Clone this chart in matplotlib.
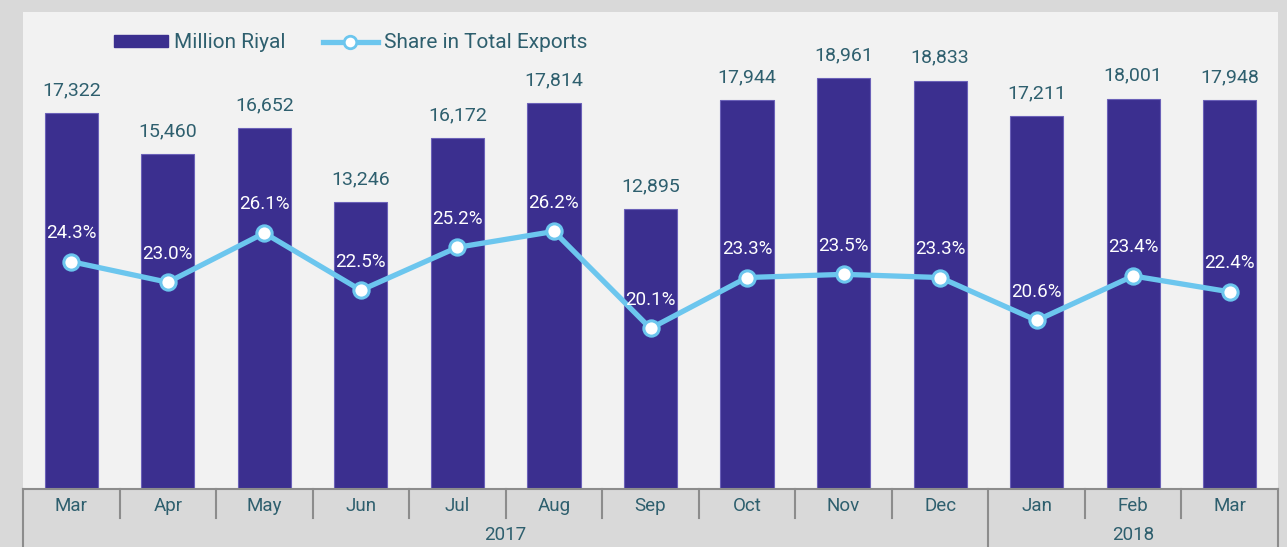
import matplotlib
matplotlib.use("Agg")
import matplotlib.pyplot as plt
from matplotlib.patches import Patch
from matplotlib.lines import Line2D
import matplotlib.transforms as mtrans

months = ["Mar", "Apr", "May", "Jun", "Jul", "Aug", "Sep", "Oct", "Nov", "Dec", "Jan", "Feb", "Mar"]
years = ["2017", "2018"]
year_counts = [10, 3]
million_riyal = [17322, 15460, 16652, 13246, 16172, 17814, 12895, 17944, 18961, 18833, 17211, 18001, 17948]
share_pct = [24.3, 23.0, 26.1, 22.5, 25.2, 26.2, 20.1, 23.3, 23.5, 23.3, 20.6, 23.4, 22.4]

BAR = "#3b2f8f"
LINE = "#6cc6ee"
TEXT = "#2e5f6e"
FIGBG = "#d9d9d9"
AXBG = "#f2f2f2"
W, H = 1287, 547

plt.rcParams['font.family'] = ['Roboto', 'DejaVu Sans']

fig = plt.figure(figsize=(W / 100, H / 100), dpi=100, facecolor=FIGBG)
left, right, top, bottom = 23, 1278, 12, 489
ax = fig.add_axes([left / W, (H - bottom) / H, (right - left) / W, (bottom - top) / H])
ax.set_facecolor(AXBG)
x = list(range(len(months)))
ax.bar(x, million_riyal, width=0.55, color=BAR, edgecolor="#6b61b8", linewidth=0.8, zorder=2)
ax.set_xlim(-0.5, len(months) - 0.5)
ax.set_ylim(0, 22000)
ax.set_yticks([])
ax.set_xticks([])
for s in ["top", "right", "left"]:
    ax.spines[s].set_visible(False)
ax.spines["bottom"].set_color("#8c8c8c")
ax.spines["bottom"].set_linewidth(1.5)

for xi, v in zip(x, million_riyal):
    ax.annotate(f"{v:,}", (xi, v), xytext=(0, 10), textcoords="offset points",
                ha="center", va="bottom", fontsize=14, color=TEXT)

ax2 = ax.twinx()
ax2.set_ylim(10, 40)
ax2.axis("off")
ax2.plot(x, share_pct, color=LINE, linewidth=3.8, zorder=3,
         marker="o", markersize=11, markerfacecolor="white", markeredgecolor=LINE,
         markeredgewidth=2.2)
for xi, v in zip(x, share_pct):
    ax2.annotate(f"{v:.1f}%", (xi, v), xytext=(0, 17), textcoords="offset points",
                 ha="center", va="baseline", fontsize=13.5, color="white", zorder=4)

# category dividers
trans = mtrans.blended_transform_factory(ax.transData, ax.transAxes)
axh = (bottom - top)
month_len = 29 / axh
full_len = (H - bottom) / axh
boundaries = [0]
for c in year_counts:
    boundaries.append(boundaries[-1] + c)
for i in range(len(months) + 1):
    xb = i - 0.5
    L = full_len if i in boundaries else month_len
    ax.plot([xb, xb], [0, -L], transform=trans, color="#8c8c8c", linewidth=1.5,
            clip_on=False, zorder=5)
for xi, m in zip(x, months):
    ax.text(xi, -17 / axh, m, transform=trans, ha="center", va="center",
            fontsize=13.5, color=TEXT)
for k, yname in enumerate(years):
    s, e = boundaries[k], boundaries[k + 1]
    ax.text((s + e - 1) / 2, -46 / axh, yname, transform=trans, ha="center",
            va="center", fontsize=13.5, color=TEXT)

handles = [Patch(facecolor=BAR, edgecolor=BAR),
           Line2D([0], [0], color=LINE, linewidth=3.8, marker="o", markersize=9,
                  markerfacecolor="white", markeredgecolor=LINE, markeredgewidth=2)]
fig.legend(handles, ["Million Riyal", "Share in Total Exports"], loc="center left",
           bbox_to_anchor=(114 / W, 1 - 43 / H), ncol=2, frameon=False,
           fontsize=15, labelcolor=TEXT, handlelength=2.6, handleheight=0.55,
           handletextpad=0.3, columnspacing=1.8, borderpad=0, borderaxespad=0)

fig.savefig("out.png", dpi=100, facecolor=FIGBG)
